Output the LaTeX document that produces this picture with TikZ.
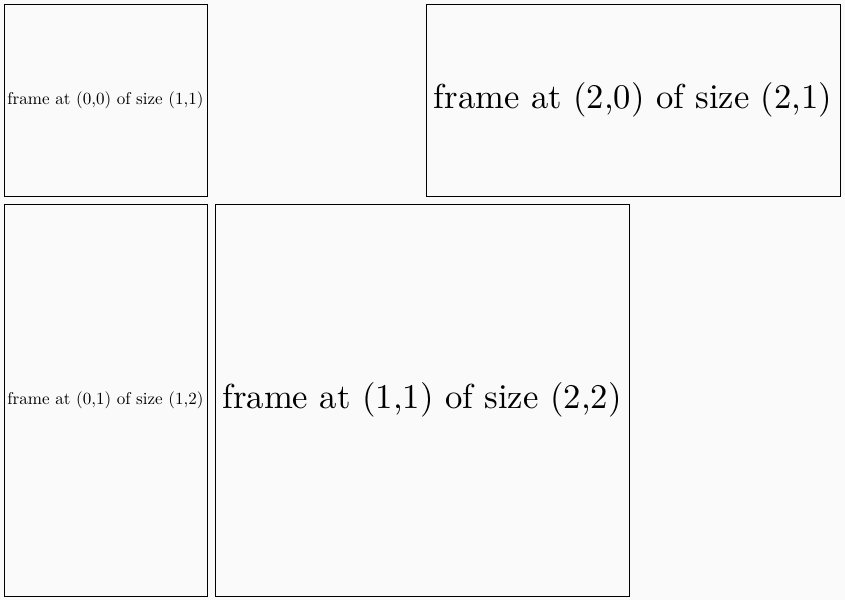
\documentclass[tikz,border=0pt]{standalone}
\definecolor{bg}{HTML}{FAFAFA}
\tikzset{
  framebox/.style={draw=black, line width=1pt, fill=bg, minimum width=#1, inner sep=0pt},
  frametext/.style={inner sep=0pt, text=black}
}
\newcommand{\fr}[7]{% name, x, y, w, h, text
  \draw[line width=1pt, fill=bg] (#2,#3) rectangle ++(#4,#5);
  \node[frametext] (#1) at ({#2+#4/2},{#3+#5/2}) {\resizebox{#6pt}{!}{#7}};
}
\begin{document}
\begin{tikzpicture}[x=1pt,y=-1pt]
\fill[bg] (0,0) rectangle (845,600);
\useasboundingbox (0,0) rectangle (845,600);
\fr{f00}{4}{4}{203}{192}{196}{frame at (0,0) of size (1,1)}
\fr{f20}{426}{4}{414}{192}{398}{frame at (2,0) of size (2,1)}
\fr{f01}{4}{204}{203}{392}{196}{frame at (0,1) of size (1,2)}
\fr{f11}{215}{204}{414}{392}{399}{frame at (1,1) of size (2,2)}
\end{tikzpicture}
\end{document}
